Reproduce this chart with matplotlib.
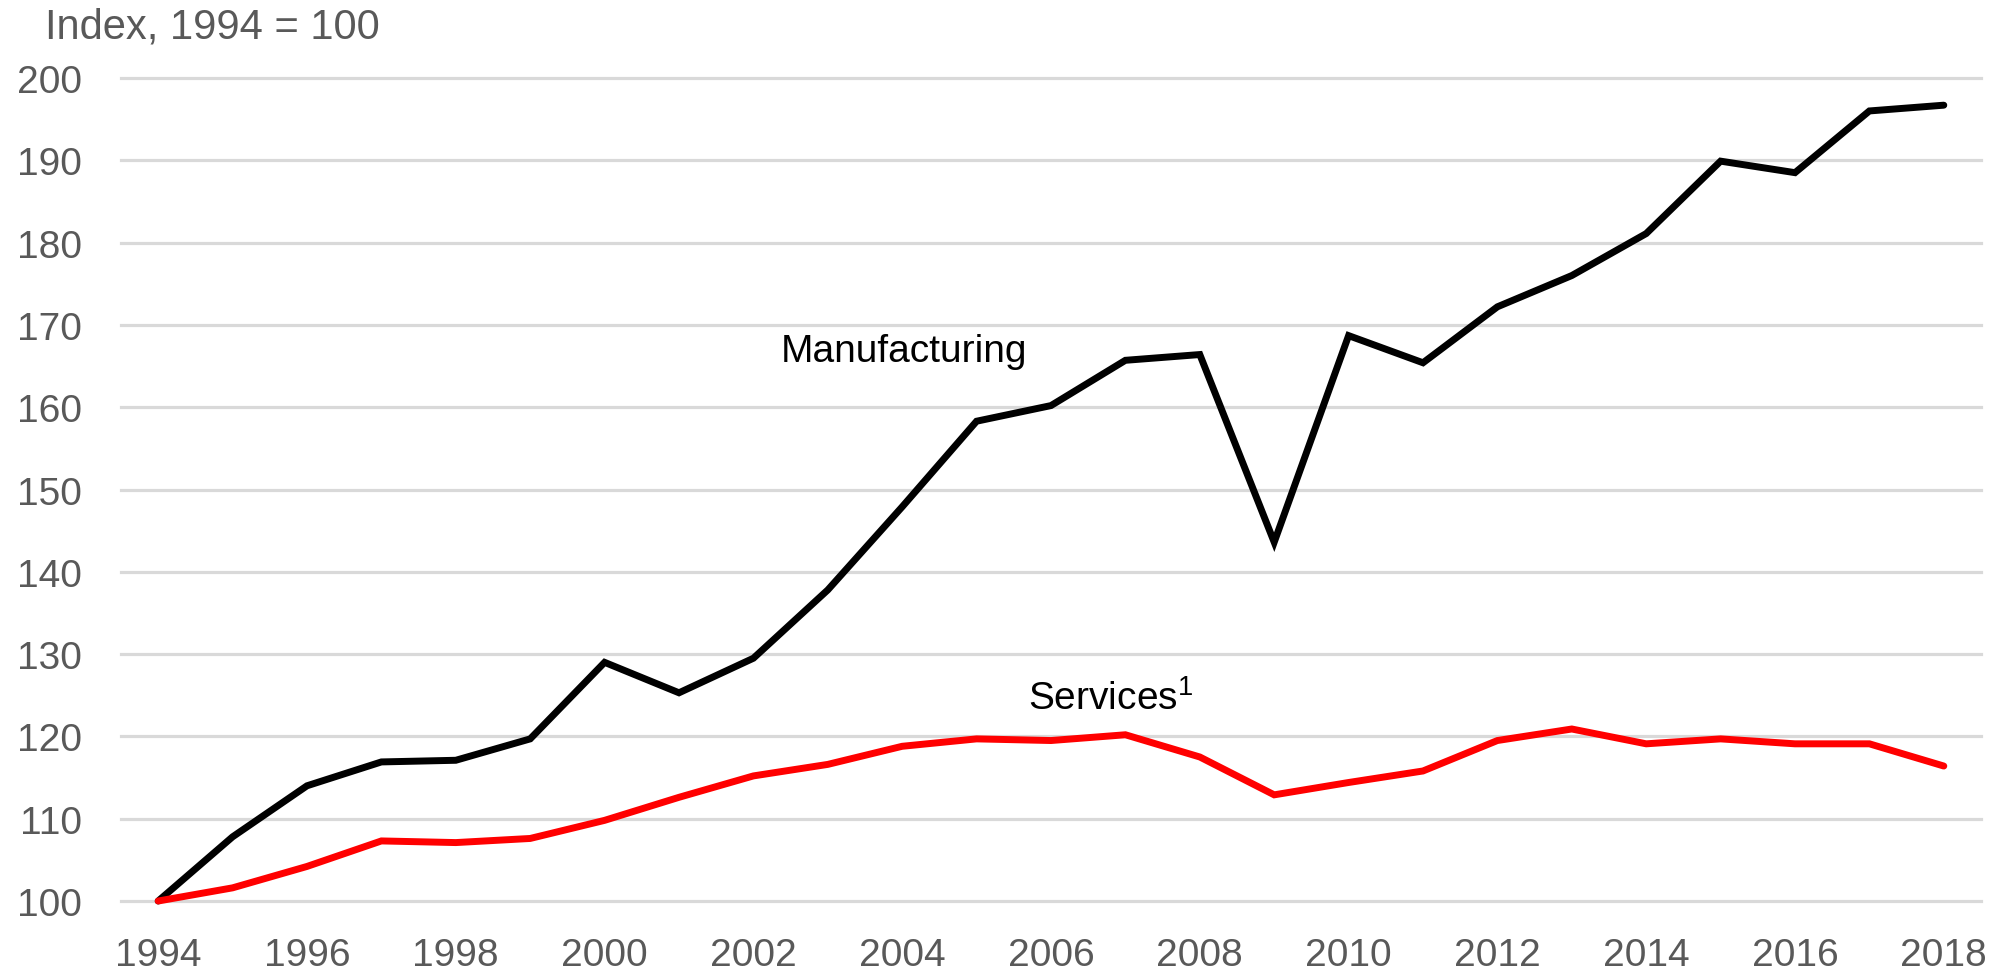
import matplotlib
matplotlib.use("Agg")
import matplotlib.pyplot as plt
import numpy as np

plt.rcParams["font.family"] = ["Liberation Sans Narrow", "Liberation Sans", "DejaVu Sans"]

years = list(range(1994, 2019))
manufacturing = [100, 107.8, 114.0, 116.9, 117.1, 119.7, 129.0, 125.3, 129.5, 137.8,
                 147.9, 158.3, 160.2, 165.7, 166.4, 143.6, 168.7, 165.4, 172.2, 176.0,
                 181.1, 189.9, 188.5, 196.0, 196.7]
services = [100, 101.6, 104.2, 107.3, 107.1, 107.6, 109.8, 112.6, 115.2, 116.6,
            118.8, 119.7, 119.5, 120.2, 117.5, 112.9, 114.4, 115.8, 119.5, 120.9,
            119.1, 119.7, 119.1, 119.1, 116.4]
y_ticks = [100, 110, 120, 130, 140, 150, 160, 170, 180, 190, 200]
x_ticks = list(range(1994, 2019, 2))

fig = plt.figure(figsize=(20, 9.78), dpi=100)
ax = fig.add_axes([0.0605, 0.0777, 0.93, 0.8415])

for y in y_ticks:
    ax.axhline(y, color="#d9d9d9", lw=2.3, zorder=1, clip_on=False)

ax.plot(years, manufacturing, color="black", lw=5, zorder=3, clip_on=False,
        solid_capstyle="round", solid_joinstyle="miter")
ax.plot(years, services, color="#ff0000", lw=5, zorder=3, clip_on=False,
        solid_capstyle="round", solid_joinstyle="miter")

ax.set_xlim(1993.5, 2018.5)
ax.set_ylim(100, 200)
ax.set_yticks(y_ticks)
ax.set_xticks(x_ticks)
ax.tick_params(axis="both", length=0, labelsize=28, labelcolor="#595959")
ax.tick_params(axis="y", pad=28)
ax.tick_params(axis="x", pad=26)
for s in ax.spines.values():
    s.set_visible(False)

ax.text(2002.37, 166.8, "Manufacturing", fontsize=28, color="black", va="center", ha="left")
ax.text(2005.69, 124.7, r"Services$^{\mathregular{1}}$", fontsize=28, color="black",
        va="center", ha="left")

fig.text(0.0225, 0.972, "Index, 1994 = 100", fontsize=30, color="#595959", va="center", ha="left")

fig.savefig("out.png", dpi=100)
